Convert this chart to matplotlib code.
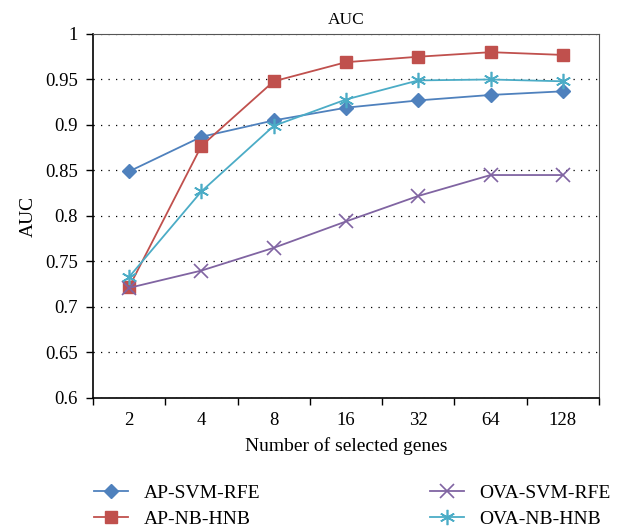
import matplotlib
matplotlib.use("Agg")
import matplotlib.pyplot as plt
import numpy as np

plt.rcParams['font.family'] = ['Liberation Serif', 'DejaVu Serif']

genes = ["2", "4", "8", "16", "32", "64", "128"]
ap_svm_rfe = [0.849, 0.887, 0.905, 0.919, 0.927, 0.933, 0.937]
ap_nb_hnb = [0.722, 0.877, 0.948, 0.969, 0.975, 0.980, 0.977]
ova_svm_rfe = [0.721, 0.740, 0.765, 0.794, 0.822, 0.845, 0.845]
ova_nb_hnb = [0.733, 0.827, 0.899, 0.928, 0.949, 0.950, 0.948]
yticks = [0.6, 0.65, 0.7, 0.75, 0.8, 0.85, 0.9, 0.95, 1.0]
ytick_labels = ["0.6", "0.65", "0.7", "0.75", "0.8", "0.85", "0.9", "0.95", "1"]

fig = plt.figure(figsize=(6.24, 5.31), dpi=100)
ax = fig.add_axes([0.149, 0.2505, 0.811, 0.6855])

x = np.arange(len(genes))
asterisk = (6, 2, 0)
h1, = ax.plot(x, ap_svm_rfe, color='#4F81BD', marker='D', markersize=7, lw=1.3, label='AP-SVM-RFE', zorder=3)
h2, = ax.plot(x, ap_nb_hnb, color='#C0504D', marker='s', markersize=9, lw=1.3, label='AP-NB-HNB', zorder=3)
h3, = ax.plot(x, ova_svm_rfe, color='#8064A2', marker='x', markersize=10, mew=1.2, lw=1.3, label='OVA-SVM-RFE', zorder=3)
h4, = ax.plot(x, ova_nb_hnb, color='#4BACC6', marker=asterisk, markersize=11, mew=1.2, lw=1.3, label='OVA-NB-HNB', zorder=3)

ax.set_xlim(-0.5, len(genes) - 0.5)
ax.set_ylim(0.6, 1.0)
ax.set_yticks(yticks)
ax.set_yticklabels(ytick_labels)
ax.set_xticks(x)
ax.set_xticklabels(genes)
ax.set_xticks(np.arange(-0.5, len(genes), 1.0), minor=True)
ax.tick_params(axis='x', which='major', length=0, labelsize=13.5, pad=10)
ax.tick_params(axis='x', which='minor', length=5, direction='out', width=1)
ax.tick_params(axis='y', length=5, direction='out', width=1, labelsize=13.5, pad=6)
ax.grid(axis='y', linestyle=(0, (1, 5)), color='black', lw=0.9)
for s in ['left', 'bottom']:
    ax.spines[s].set_linewidth(1.2)
for s in ['top', 'right']:
    ax.spines[s].set_linewidth(0.8)
    ax.spines[s].set_color('#555555')

ax.set_title('AUC', fontsize=12.5, pad=7)
ax.set_xlabel('Number of selected genes', fontsize=14, labelpad=6)
ax.set_ylabel('AUC', fontsize=14, labelpad=6)

leg_kw = dict(loc='center left', frameon=False, fontsize=14, handlelength=1.75,
              handletextpad=0.8, labelspacing=0.4, borderpad=0, borderaxespad=0)
leg1 = fig.legend(handles=[h1, h2], bbox_to_anchor=(94 / 624, 0.047), **leg_kw)
leg2 = fig.legend(handles=[h3, h4], bbox_to_anchor=(430 / 624, 0.047), **leg_kw)

fig.savefig('out.png', dpi=100)
